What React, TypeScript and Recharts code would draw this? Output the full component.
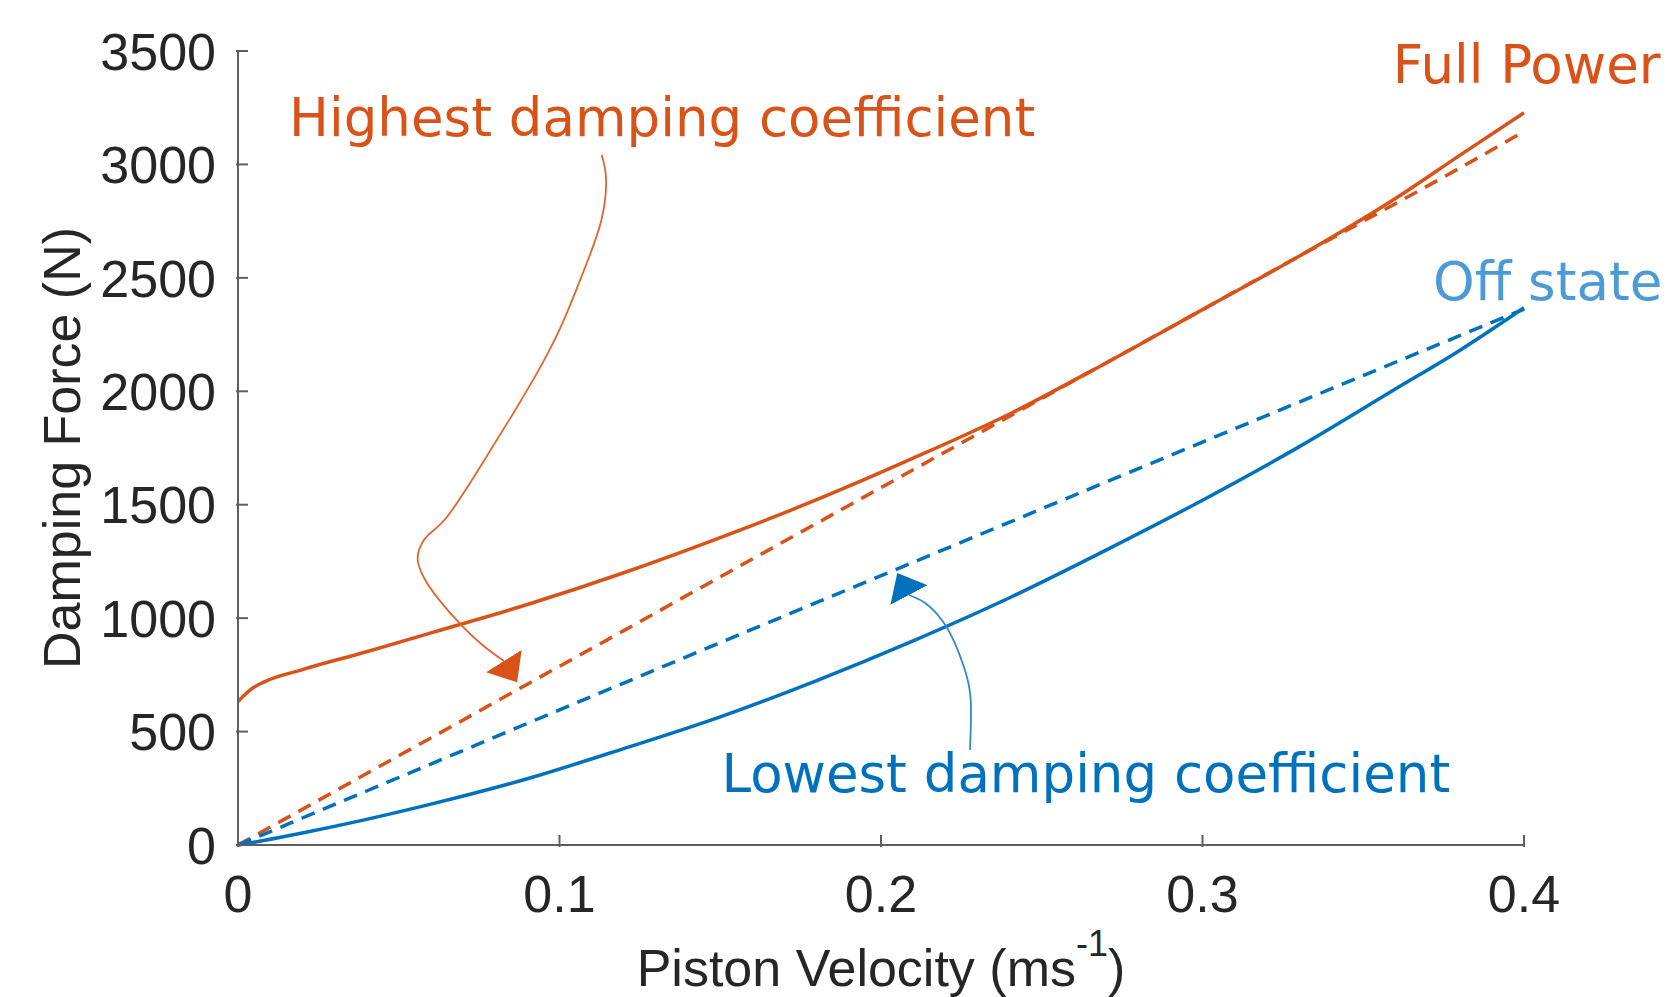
import { LineChart, Line, XAxis, YAxis, ReferenceDot, Label } from 'recharts';

// Piston velocity (m/s) sampled along the curves
const velocity = [0, 0.004, 0.008, 0.02, 0.04, 0.06, 0.09, 0.12, 0.15, 0.18, 0.21, 0.24, 0.27, 0.3, 0.33, 0.36, 0.38, 0.4];

// Damping force (N)
const fullPowerSolid = [632, 686, 718, 773, 852, 935, 1060, 1200, 1355, 1522, 1705, 1900, 2125, 2360, 2595, 2850, 3040, 3228];
const fullPowerDashed = [0, 31, 63, 157, 315, 472, 709, 945, 1182, 1418, 1654, 1890, 2125, 2360, 2595, 2827, 2984, 3145];
const offStateSolid = [0, 10, 20, 53, 113, 180, 292, 425, 565, 725, 900, 1090, 1300, 1520, 1755, 2010, 2180, 2368];
const offStateDashed = [0, 24, 47, 119, 238, 357, 536, 714, 892, 1069, 1246, 1423, 1600, 1776, 1952, 2128, 2245, 2362];

const xTicks = [0, 0.1, 0.2, 0.3, 0.4];
const yTicks = [0, 500, 1000, 1500, 2000, 2500, 3000, 3500];

// annotation arrows, in data units (velocity, force); the last point is the back of the head
const highArrowV = [0.1131, 0.1145, 0.1129, 0.1079, 0.1011, 0.0939, 0.0855, 0.0753, 0.065, 0.0591, 0.0563, 0.056, 0.0579, 0.0628, 0.07, 0.0764, 0.0827];
const highArrowF = [3043, 2932, 2747, 2544, 2306, 2103, 1900, 1666, 1446, 1366, 1300, 1247, 1177, 1076, 961, 877, 811];
const lowArrowV = [0.2277, 0.2279, 0.2261, 0.223, 0.2189, 0.2137, 0.2087];
const lowArrowF = [419, 639, 771, 889, 992, 1067, 1102];

// text annotations, anchored at the left end of the baseline
const noteText = ['Highest damping coefficient', 'Full Power', 'Off state', 'Lowest damping coefficient'];
const noteV = [0.0159, 0.3592, 0.3717, 0.1504];
const noteF = [3125, 3359, 2402, 234];

const ORANGE = '#D95319';
const BLUE = '#0072BD';
const LIGHT_BLUE = '#4C9BD6';
const AXIS_COLOR = '#5e5e5e';
const TEXT_COLOR = '#262626';
const SANS = '"Liberation Sans", Arial, Helvetica, sans-serif';
const NOTE_FONT = '"DejaVu Sans", Verdana, sans-serif';

const noteColors = [ORANGE, ORANGE, LIGHT_BLUE, BLUE];

const chartData = velocity.map((v, i) => ({
  v,
  fullPowerSolid: fullPowerSolid[i],
  fullPowerDashed: fullPowerDashed[i],
  offStateSolid: offStateSolid[i],
  offStateDashed: offStateDashed[i],
}));

const highArrow = highArrowV.map((v, i) => ({ v, f: highArrowF[i] }));
const lowArrow = lowArrowV.map((v, i) => ({ v, f: lowArrowF[i] }));

function XTick({ x, y, payload }: any) {
  return (
    <g>
      <line x1={x} x2={x} y1={y} y2={y - 12} stroke={AXIS_COLOR} strokeWidth={2} />
      <text x={x} y={y + 65} textAnchor="middle" fontSize={52} fill={TEXT_COLOR} fontFamily={SANS}>
        {payload.value}
      </text>
    </g>
  );
}

function YTick({ x, y, payload }: any) {
  return (
    <g>
      <line x1={x} x2={x + 12} y1={y} y2={y} stroke={AXIS_COLOR} strokeWidth={2} />
      <text x={x - 20} y={y} dy="0.36em" textAnchor="end" fontSize={52} fill={TEXT_COLOR} fontFamily={SANS}>
        {payload.value}
      </text>
    </g>
  );
}

function XLabel({ viewBox }: any) {
  const cx = viewBox.x + viewBox.width / 2;
  return (
    <text x={cx} y={viewBox.y + 141} textAnchor="middle" fontSize={52} fill={TEXT_COLOR} fontFamily={SANS}>
      Piston Velocity (ms
      <tspan dy={-30} fontSize={36}>-1</tspan>
      <tspan dy={30}>)</tspan>
    </text>
  );
}

function YLabel({ viewBox }: any) {
  const x = viewBox.x + 80;
  const y = viewBox.y + viewBox.height / 2;
  return (
    <text
      x={x}
      y={y}
      transform={`rotate(-90, ${x}, ${y})`}
      textAnchor="middle"
      fontSize={52}
      fill={TEXT_COLOR}
      fontFamily={SANS}
    >
      Damping Force (N)
    </text>
  );
}

export default function App() {
  return (
    <div style={{ position: 'absolute', left: 0, top: 0, width: 1667, height: 997, background: '#fff' }}>
      <LineChart width={1667} height={997} data={chartData} margin={{ top: 51, right: 143, bottom: 0, left: 0 }}>
        <defs>
          <marker id="headOrange" viewBox="0 0 25 42" refX="0" refY="21" markerUnits="userSpaceOnUse" markerWidth="25" markerHeight="42" orient="58">
            <path d="M0,0 L25,21 L0,42 z" fill={ORANGE} />
          </marker>
          <marker id="headBlue" viewBox="0 0 25 42" refX="0" refY="21" markerUnits="userSpaceOnUse" markerWidth="25" markerHeight="42" orient="-118">
            <path d="M0,0 L25,21 L0,42 z" fill={BLUE} />
          </marker>
        </defs>
        <XAxis
          type="number"
          dataKey="v"
          domain={[0, 0.4]}
          ticks={xTicks}
          interval={0}
          tickSize={0}
          tickLine={false}
          axisLine={{ stroke: AXIS_COLOR, strokeWidth: 2 }}
          height={152}
          tick={XTick}
        >
          <Label content={XLabel} />
        </XAxis>
        <YAxis
          type="number"
          domain={[0, 3500]}
          ticks={yTicks}
          interval={0}
          tickSize={0}
          tickLine={false}
          axisLine={{ stroke: AXIS_COLOR, strokeWidth: 2 }}
          width={238}
          tick={YTick}
        >
          <Label content={YLabel} />
        </YAxis>

        <Line type="monotone" dataKey="fullPowerSolid" stroke={ORANGE} strokeWidth={3.5} dot={false} activeDot={false} isAnimationActive={false} />
        <Line type="monotone" dataKey="fullPowerDashed" stroke={ORANGE} strokeWidth={3.5} strokeDasharray="14 9" dot={false} activeDot={false} isAnimationActive={false} />
        <Line type="monotone" dataKey="offStateSolid" stroke={BLUE} strokeWidth={3.5} dot={false} activeDot={false} isAnimationActive={false} />
        <Line type="monotone" dataKey="offStateDashed" stroke={BLUE} strokeWidth={3.5} strokeDasharray="14 9" dot={false} activeDot={false} isAnimationActive={false} />

        {/* annotation arrows */}
        <Line
          data={highArrow}
          dataKey="f"
          type="natural"
          stroke="#DF6630"
          strokeWidth={1.8}
          dot={false}
          activeDot={false}
          markerEnd="url(#headOrange)"
          isAnimationActive={false}
        />
        <Line
          data={lowArrow}
          dataKey="f"
          type="natural"
          stroke="#3288CC"
          strokeWidth={1.8}
          dot={false}
          activeDot={false}
          markerEnd="url(#headBlue)"
          isAnimationActive={false}
        />

        {noteText.map((t, i) => (
          <ReferenceDot
            key={t}
            x={noteV[i]}
            y={noteF[i]}
            r={0}
            ifOverflow="visible"
            shape={(p: any) => (
              <text x={p.cx} y={p.cy} fill={noteColors[i]} fontSize={53} fontFamily={NOTE_FONT}>
                {t}
              </text>
            )}
          />
        ))}
      </LineChart>
    </div>
  );
}
